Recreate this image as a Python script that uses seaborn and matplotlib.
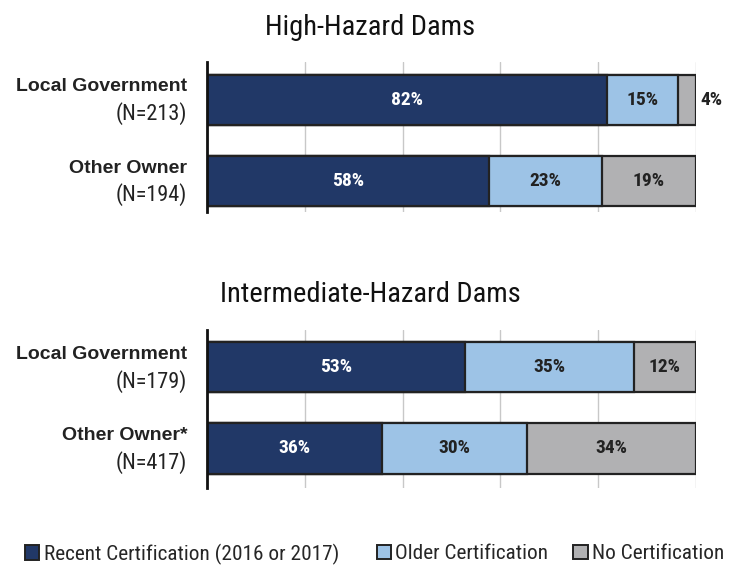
import matplotlib
matplotlib.use("Agg")
import matplotlib.pyplot as plt
import seaborn as sns
import pandas as pd
import numpy as np
from matplotlib.patches import Patch
import matplotlib.transforms as mtransforms

sns.set_style("white")
plt.rcParams['font.family'] = ['Roboto Condensed', 'Archivo Narrow', 'Liberation Sans', 'DejaVu Sans']
BOLD_LABEL_FONT = ['Liberation Sans', 'DejaVu Sans']

# ---- data ----
panel_titles = ["High-Hazard Dams", "Intermediate-Hazard Dams"]
owners_top = ["Local Government", "Other Owner"]
n_top = ["(N=213)", "(N=194)"]
owners_bot = ["Local Government", "Other Owner*"]
n_bot = ["(N=179)", "(N=417)"]
series = ["Recent Certification (2016 or 2017)", "Older Certification", "No Certification"]
recent_top = [81.8, 57.7]
older_top = [14.5, 23.1]
none_top = [3.7, 19.2]
recent_bot = [52.8, 35.8]
older_bot = [34.5, 29.6]
none_bot = [12.7, 34.6]
labels_top = [["82%", "15%", "4%"], ["58%", "23%", "19%"]]
labels_bot = [["53%", "35%", "12%"], ["36%", "30%", "34%"]]

colors = ["#213867", "#9DC3E6", "#B1B1B3"]
text_colors = ["white", "#222222", "#222222"]
edge = "#222222"

fig = plt.figure(figsize=(7.33, 5.67), dpi=100)
ax1 = fig.add_axes([0.2824, 0.626, 0.667, 0.265])
ax2 = fig.add_axes([0.2824, 0.139, 0.667, 0.279])


def draw(ax, owners, ns, rec, old, non, labels, ylim):
    df = pd.DataFrame({"owner": owners, "rec": rec, "old": old, "non": non})
    df["c1"] = df["rec"]
    df["c2"] = df["rec"] + df["old"]
    df["c3"] = df["rec"] + df["old"] + df["non"]
    for col, c in zip(["c3", "c2", "c1"], colors[::-1]):
        sns.barplot(data=df, x=col, y="owner", orient="h", color=c, ax=ax,
                    width=0.62, edgecolor=edge, linewidth=1.6, saturation=1)
    ax.set_xlim(0, 100)
    ax.set_ylim(*ylim)
    ax.set_xticks(np.arange(0, 101, 20))
    ax.set_xticklabels([])
    ax.set_yticks([])
    ax.set_xlabel("")
    ax.set_ylabel("")
    ax.grid(axis="x", color="#C8C8C8", linewidth=1)
    ax.set_axisbelow(True)
    for s in ["top", "right", "bottom"]:
        ax.spines[s].set_visible(False)
    ax.spines["left"].set_color("#111111")
    ax.spines["left"].set_linewidth(2)
    ax.tick_params(length=0)
    trans = mtransforms.blended_transform_factory(ax.transAxes, ax.transData)
    for i, (o, n) in enumerate(zip(owners, ns)):
        ax.text(-0.04, i - 0.16, o, transform=trans, ha="right", va="center",
                fontsize=14, fontweight="bold", color="#222222", family=BOLD_LABEL_FONT)
        ax.text(-0.04, i + 0.17, n, transform=trans, ha="right", va="center",
                fontsize=16, color="#222222")
        segs = [(0, df["c1"][i]), (df["c1"][i], df["c2"][i]), (df["c2"][i], df["c3"][i])]
        for k, (a, b) in enumerate(segs):
            w = b - a
            if w < 6:
                ax.text(b + 1.0, i, labels[i][k], ha="left", va="center",
                        fontsize=14, fontweight="bold", color="#222222")
            else:
                ax.text((a + b) / 2, i, labels[i][k], ha="center", va="center",
                        fontsize=14, fontweight="bold", color=text_colors[k])


draw(ax1, owners_top, n_top, recent_top, older_top, none_top, labels_top, (1.38, -0.47))
draw(ax2, owners_bot, n_bot, recent_bot, older_bot, none_bot, labels_bot, (1.49, -0.46))

fig.text(0.505, 0.951, panel_titles[0], ha="center", va="center", fontsize=20.5, color="#111111")
fig.text(0.505, 0.480, panel_titles[1], ha="center", va="center", fontsize=20.5, color="#111111")

leg_x = [0.034, 0.514, 0.782]
for c, s, x in zip(colors, series, leg_x):
    h = Patch(facecolor=c, edgecolor=edge, linewidth=1.4)
    fig.legend([h], [s], loc="center left", bbox_to_anchor=(x, 0.023),
               frameon=False, fontsize=15.3, handlelength=0.68, handleheight=0.68,
               handletextpad=0.2, borderpad=0, borderaxespad=0)

fig.savefig("out.png", dpi=100)
